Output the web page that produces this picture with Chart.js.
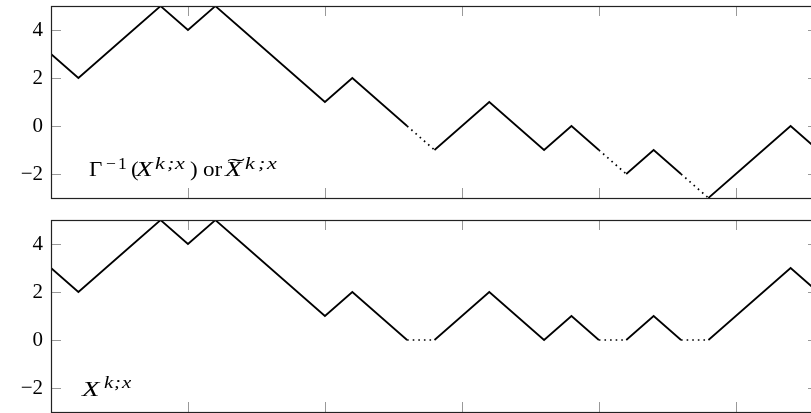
<!DOCTYPE html>
<html>
<head>
<meta charset="utf-8">
<script src="https://cdn.jsdelivr.net/npm/chart.js@4/dist/chart.umd.min.js"></script>
<style>
  html, body { margin: 0; padding: 0; background: #fff; overflow: hidden; }
  .panel { position: absolute; left: 0; width: 830px; height: 206px; }
  #top { top: 0; }
  #bottom { top: 207px; }
</style>
</head>
<body>
<div class="panel" id="top"><canvas id="topChart"></canvas></div>
<div class="panel" id="bottom"><canvas id="bottomChart"></canvas></div>
<script>
// step index along the x axis
const steps = [0, 1, 2, 3, 4, 5, 6, 7, 8, 9, 10, 11, 12, 13, 14, 15, 16, 17, 18, 19, 20, 21, 22, 23, 24, 25, 26, 27, 28];
// Gamma^{-1}(X) path (upper panel)
const invPath = [3, 2, 3, 4, 5, 4, 5, 4, 3, 2, 1, 2, 1, 0, -1, 0, 1, 0, -1, 0, -1, -2, -1, -2, -3, -2, -1, 0, -1];
// X path (lower panel)
const xPath = [3, 2, 3, 4, 5, 4, 5, 4, 3, 2, 1, 2, 1, 0, 0, 1, 2, 1, 0, 1, 0, 0, 1, 0, 0, 1, 2, 3, 2];
// segments that start at these indices are drawn dotted
const dottedStarts = [13, 20, 23];
const xTicks = [5, 10, 15, 20, 25];
const yTicks = [-2, 0, 2, 4];

const serif = '"Liberation Serif", "DejaVu Serif", serif';

// frame + short inward ticks, pgfplots style
const framePlugin = {
  id: 'frame',
  afterDatasetsDraw(chart) {
    const { ctx, chartArea: a, scales } = chart;
    ctx.save();
    ctx.strokeStyle = '#999';
    ctx.lineWidth = 1;
    const len = 10;
    xTicks.forEach(v => {
      const px = Math.round(scales.x.getPixelForValue(v)) + 0.5;
      ctx.beginPath();
      ctx.moveTo(px, a.top); ctx.lineTo(px, a.top + len);
      ctx.moveTo(px, a.bottom); ctx.lineTo(px, a.bottom - len);
      ctx.stroke();
    });
    yTicks.forEach(v => {
      const py = Math.round(scales.y.getPixelForValue(v)) + 0.5;
      ctx.beginPath();
      ctx.moveTo(a.left, py); ctx.lineTo(a.left + len, py);
      ctx.moveTo(a.right, py); ctx.lineTo(a.right - len, py);
      ctx.stroke();
    });
    ctx.strokeStyle = '#222';
    ctx.lineWidth = 1.2;
    ctx.strokeRect(Math.round(a.left) + 0.5, Math.round(a.top) + 0.5,
      Math.round(a.right - a.left), Math.round(a.bottom - a.top));
    ctx.restore();
  }
};

// math-like label: each piece [text, style, size, x offset, rise]
// italic glyphs are widened to look like TeX math italic
const labelPlugin = {
  id: 'mathLabel',
  afterDraw(chart, args, opts) {
    if (!opts.parts) return;
    const { ctx, chartArea: a } = chart;
    const y = a.bottom - opts.dy;
    ctx.save();
    ctx.fillStyle = '#000';
    ctx.textBaseline = 'alphabetic';
    opts.parts.forEach(([text, style, size, dx, rise]) => {
      ctx.save();
      ctx.translate(a.left + dx, y - rise);
      ctx.scale(style === 'italic' ? 1.3 : 1.1, 1);
      ctx.font = style + ' ' + size + 'px ' + serif;
      ctx.fillText(text, 0, 0);
      ctx.restore();
    });
    if (opts.tilde != null) {
      // wide tilde over the X
      ctx.translate(a.left + opts.tilde, y - 3);
      ctx.scale(2.4, 1);
      ctx.font = '22px ' + serif;
      ctx.textAlign = 'center';
      ctx.fillText('\u02DC', 0, 0);
    }
    ctx.restore();
  }
};

function makeChart(id, values, padTop, padBottom, label) {
  return new Chart(document.getElementById(id), {
    type: 'line',
    data: {
      labels: steps,
      datasets: [{
        data: steps.map((s, i) => ({ x: s, y: values[i] })),
        borderColor: '#000',
        borderWidth: 1.7,
        pointRadius: 0,
        tension: 0,
        segment: {
          borderDash: c => dottedStarts.includes(c.p0DataIndex) ? [1.6, 4] : undefined
        }
      }]
    },
    options: {
      responsive: true,
      maintainAspectRatio: false,
      animation: false,
      layout: { padding: { top: padTop, bottom: padBottom, right: 12, left: 0 } },
      plugins: {
        legend: { display: false },
        tooltip: { enabled: false },
        mathLabel: label
      },
      scales: {
        x: { type: 'linear', min: 0, max: 28, display: false },
        y: {
          min: -3, max: 5,
          afterBuildTicks: s => { s.ticks = yTicks.map(v => ({ value: v })); },
          afterFit: s => { s.width = 51; s.paddingTop = 0; s.paddingBottom = 0; },
          grid: { display: false, drawTicks: false },
          border: { display: false },
          ticks: {
            padding: 8,
            color: '#000',
            font: { family: serif, size: 21 },
            callback: v => (v < 0 ? '\u2212' + Math.abs(v) : String(v))
          }
        }
      }
    },
    plugins: [framePlugin, labelPlugin]
  });
}

makeChart('topChart', invPath, 6, 8, {
  dy: 22,
  tilde: 185,
  parts: [
    ['\u0393', '', 21, 38, 0],
    ['\u2212', '', 16, 55, 7],
    ['1', '', 16, 67, 7],
    ['(', '', 21, 80, 0],
    ['X', 'italic', 21, 85, 0],
    ['k', 'italic', 17, 104, 7],
    [';', 'italic', 17, 116, 7],
    ['x', 'italic', 17, 124, 7],
    [')', '', 21, 139, 0],
    ['or', '', 21, 152, 0],
    ['X', 'italic', 21, 174, 0],
    ['k', 'italic', 17, 194, 7],
    [';', 'italic', 17, 207, 7],
    ['x', 'italic', 17, 216, 7]
  ]
});

makeChart('bottomChart', xPath, 13, 1, {
  dy: 16,
  parts: [
    ['X', 'italic', 22, 31, 0],
    ['k', 'italic', 16, 53, 8],
    [';', 'italic', 16, 63, 8],
    ['x', 'italic', 16, 71, 8]
  ]
});
</script>
</body>
</html>
